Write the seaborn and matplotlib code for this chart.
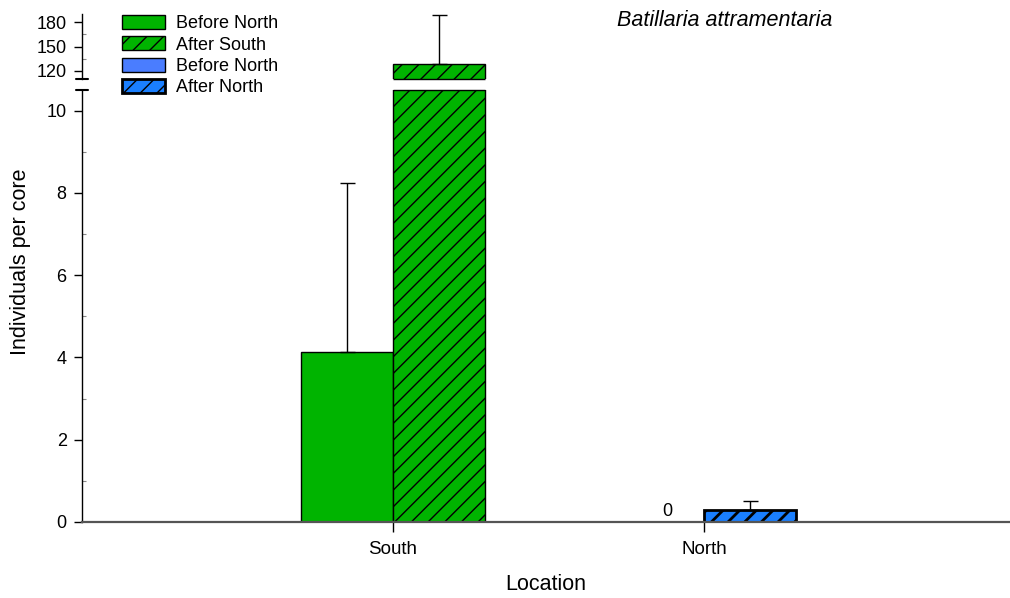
import numpy as np
import pandas as pd
import seaborn as sns
import matplotlib.pyplot as plt
from matplotlib.patches import Patch

# Mean individuals per core and upper standard errors
locations = ["South", "North"]
periods = ["Before", "After"]
before_means = [4.12, 0.0]
after_means = [128.5, 0.30]
before_err = [4.13, 0.0]
after_err = [60.5, 0.22]
legend_labels = ["Before North", "After South", "Before North", "After North"]
species = "Batillaria attramentaria"

df = pd.DataFrame({
    "Location": locations * 2,
    "Period": [periods[0]] * 2 + [periods[1]] * 2,
    "Mean": before_means + after_means,
    "Err": before_err + after_err,
})

sns.set_theme(style="white")
plt.rcParams["font.family"] = ["Liberation Sans", "DejaVu Sans"]
for key in ("text.color", "axes.labelcolor", "xtick.color", "ytick.color"):
    plt.rcParams[key] = "black"

GREEN = "#00B400"
BLUE_LIGHT = "#4A7DFF"
BLUE = "#1A7FFF"
face = {("South", "Before"): GREEN, ("South", "After"): GREEN,
        ("North", "Before"): BLUE_LIGHT, ("North", "After"): BLUE}

W, H = 1010, 598
fig = plt.figure(figsize=(W / 100, H / 100), dpi=100)
ax_bot = fig.add_axes([82 / W, 76 / H, 928 / W, 432 / H])
ax_top = fig.add_axes([82 / W, 519 / H, 928 / W, 65 / H])

ylims = {ax_top: (110, 190), ax_bot: (0, 10.5)}

for ax in (ax_top, ax_bot):
    lo, hi = ylims[ax]
    sns.barplot(data=df, x="Location", y="Mean", hue="Period",
                order=locations, hue_order=periods, width=0.59,
                errorbar=None, legend=False, ax=ax,
                edgecolor="black", linewidth=1.0)
    bar_containers = list(ax.containers)
    for pi, cont in enumerate(bar_containers):
        per = periods[pi]
        for li, bar in enumerate(cont):
            loc = locations[li]
            row = df[(df.Location == loc) & (df.Period == per)].iloc[0]
            bar.set_facecolor(face[(loc, per)])
            if per == "After":
                bar.set_hatch("//")
            if loc == "North" and per == "After":
                bar.set_linewidth(2.0)
                if hasattr(bar, "set_hatch_linewidth"):
                    bar.set_hatch_linewidth(2.0)
            if row.Mean == 0:
                bar.set_linewidth(0)
            x0, w = bar.get_x(), bar.get_width()
            cx = x0 + w / 2
            # close the bar outline where the axis break cuts it
            if row.Mean > hi:
                ax.hlines(hi, x0, x0 + w, color="black", lw=1.0,
                          clip_on=False, zorder=3)
            if lo > 0 and row.Mean > lo:
                ax.hlines(lo, x0, x0 + w, color="black", lw=1.0,
                          clip_on=False, zorder=3)
            if row.Err > 0:
                ax.errorbar(cx, row.Mean, yerr=[[0], [row.Err]], fmt="none",
                            ecolor="black", elinewidth=1.0, capsize=5.4,
                            capthick=1.0)
            if row.Mean == 0 and ax is ax_bot:
                ax.text(cx + 0.03, 0.05, f"{row.Mean:g}", ha="center",
                        va="bottom", fontsize=13)

for ax in (ax_top, ax_bot):
    ax.set_xlim(-1.0, 1.984)
    ax.set_ylim(*ylims[ax])
    ax.set_ylabel("")
    ax.set_xlabel("")
    ax.spines["top"].set_visible(False)
    ax.spines["right"].set_visible(False)
    ax.spines["left"].set_color("black")
    ax.spines["left"].set_linewidth(1.0)
    ax.tick_params(axis="y", which="major", direction="out", length=6,
                   width=1, color="black", labelsize=13, pad=5, left=True)
    ax.tick_params(axis="y", which="minor", direction="in", length=3,
                   width=0.8, color="#888888", left=True)

# lower panel
ax_bot.set_yticks([0, 2, 4, 6, 8, 10])
ax_bot.set_yticks([1, 3, 5, 7, 9], minor=True)
ax_bot.spines["bottom"].set_color("#555555")
ax_bot.spines["bottom"].set_linewidth(1.6)
ax_bot.tick_params(axis="x", direction="out", length=7, width=1,
                   color="black", labelsize=13.5, pad=7, bottom=True)
ax_bot.set_xlabel("Location", fontsize=15.5, labelpad=11)

# upper panel
ax_top.set_yticks([120, 150, 180])
ax_top.set_yticks([135, 165], minor=True)
ax_top.spines["bottom"].set_visible(False)
ax_top.tick_params(axis="x", bottom=False, labelbottom=False)

# axis break marks
d = 6 / 928
ax_top.plot([-d, d], [0, 0], transform=ax_top.transAxes, color="black",
            lw=1.5, clip_on=False)
ax_bot.plot([-d, d], [1, 1], transform=ax_bot.transAxes, color="black",
            lw=1.5, clip_on=False)

fig.text(21 / W, 1 - 262 / H, "Individuals per core", rotation=90,
         ha="center", va="center", fontsize=15.5)
fig.text(725 / W, 1 - 21 / H, species, style="italic", ha="center",
         va="center", fontsize=15.5)

handles = [
    Patch(facecolor=GREEN, edgecolor="black", linewidth=1.0),
    Patch(facecolor=GREEN, edgecolor="black", linewidth=1.0, hatch="//"),
    Patch(facecolor=BLUE_LIGHT, edgecolor="black", linewidth=1.0),
    Patch(facecolor=BLUE, edgecolor="black", linewidth=2.0, hatch="//"),
]
fig.legend(handles, legend_labels, loc="upper left",
           bbox_to_anchor=(122 / W, 1 - 15 / H), frameon=False, fontsize=13,
           handlelength=2.38, handleheight=0.83, handletextpad=0.6,
           labelspacing=0.22, borderpad=0, borderaxespad=0)

fig.savefig("out.png", dpi=100)
